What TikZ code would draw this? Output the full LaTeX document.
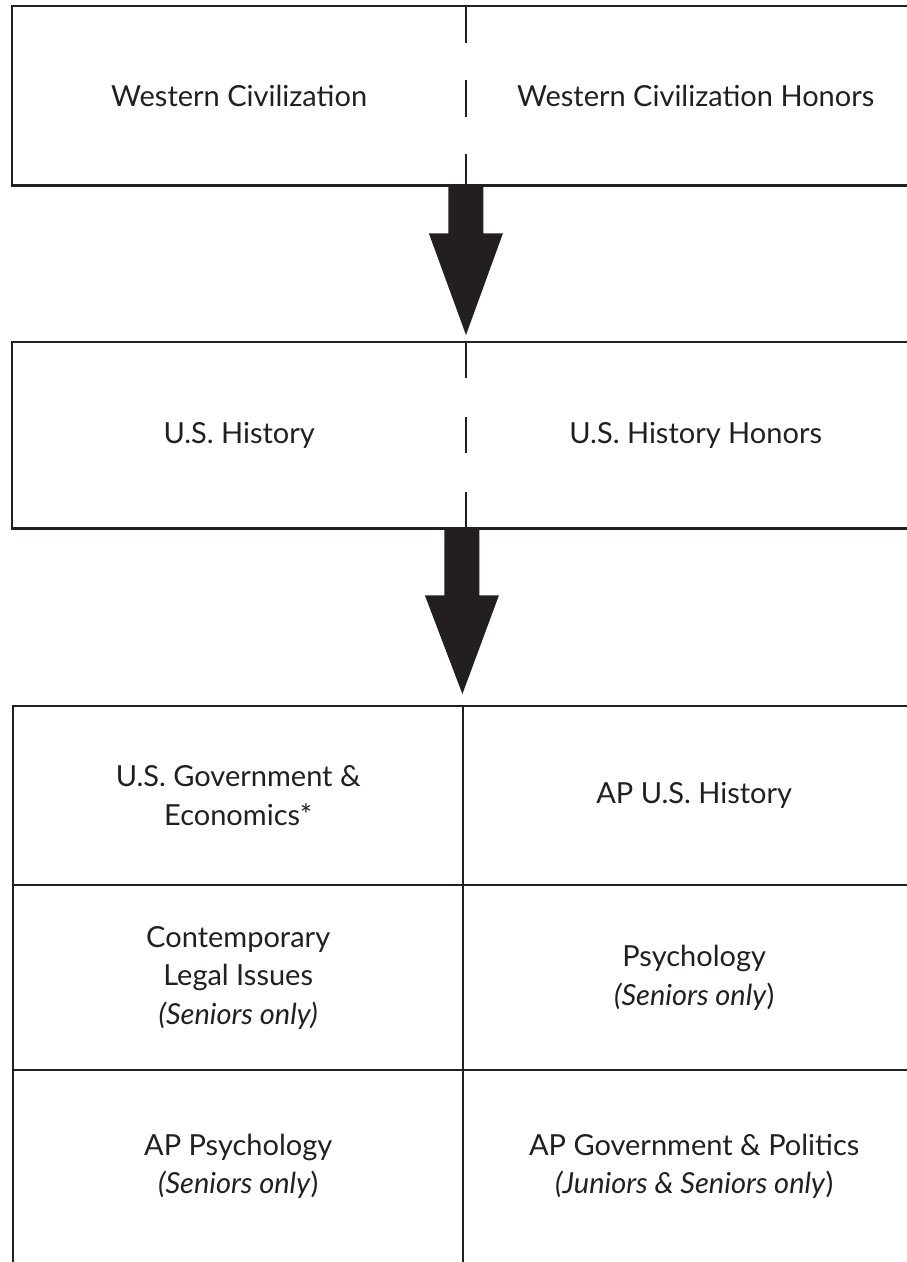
\documentclass[tikz,border=0pt]{standalone}
\usepackage{fontspec}
\setmainfont{Lato}
\usetikzlibrary{calc}
\definecolor{ink}{RGB}{35,31,32}
\tikzset{
  cell/.style={anchor=north west, inner sep=0pt, align=center, text=ink,
    font=\fontsize{29}{38.5}\selectfont},
  frame/.style={draw=ink, line width=2.8pt},
  divider/.style={draw=ink, line width=2.1pt},
  dashdiv/.style={draw=ink, line width=2.1pt, dash pattern=on 37pt off 37pt},
  blockarrow/.style={fill=ink}
}
\begin{document}
\begin{tikzpicture}[x=1pt,y=-1pt]
\useasboundingbox (0,0) rectangle (907,1262);
\clip (0,0) rectangle (907,1262);
% top box
\node[cell, minimum width=454pt, minimum height=179pt] (wcl) at (12,6) {Western Civilization};
\node[cell, minimum width=459pt, minimum height=179pt] (wch) at (466,6) {Western Civilization Honors};
\draw[frame] (wcl.north west) rectangle (wch.south east);
\draw[dashdiv] (wcl.north east) -- (wcl.south east);
% middle box
\node[cell, minimum width=454pt, minimum height=186pt] (usl) at (12,342) {U.S. History};
\node[cell, minimum width=459pt, minimum height=186pt] (ush) at (466,342) {U.S. History Honors};
\draw[frame] (usl.north west) rectangle (ush.south east);
\draw[divider, dash pattern=on 36pt off 39pt] (usl.north east) -- (usl.south east);
% table
\node[cell, minimum width=450pt, minimum height=179pt] (r1l) at (13,706) {U.S. Government \&\\Economics*};
\node[cell, minimum width=462pt, minimum height=179pt] (r1r) at (463,706) {AP U.S. History};
\node[cell, minimum width=450pt, minimum height=185pt] (r2l) at (13,885) {Contemporary\\Legal Issues\\\textit{(Seniors only)}};
\node[cell, minimum width=462pt, minimum height=185pt] (r2r) at (463,885) {Psychology\\\textit{(Seniors only})};
\node[cell, minimum width=450pt, minimum height=192pt] (r3l) at (13,1070) {AP Psychology\\\textit{(Seniors only})};
\node[cell, minimum width=462pt, minimum height=192pt] (r3r) at (463,1070) {AP Government \& Politics\\\textit{(Juniors \& Seniors only})};
\draw[frame] (r1l.north west |- r3l.south) -- (r1l.north west) -- (r1r.north east);
\draw[frame] (r2l.north west) -- (r2r.north east);
\draw[frame] (r3l.north west) -- (r3r.north east);
\draw[divider] (r1l.north east) -- (r3l.south east);
% arrows
\coordinate (a1top) at ($(wcl.south east)+(-0.5,0)$);
\coordinate (a1tip) at ($(ush.north west)+(0,-7)$);
\fill[blockarrow] ($(a1top)+(-17.5,0)$) -- ($(a1top)+(17.5,0)$) -- ($(a1top)+(17.5,48)$)
  -- ($(a1top)+(37,48)$) -- (a1tip) -- ($(a1top)+(-37,48)$) -- ($(a1top)+(-17.5,48)$) -- cycle;
\coordinate (a2top) at ($(usl.south east)+(-4.5,0)$);
\coordinate (a2tip) at ($(r1l.north east)+(-1,-12)$);
\fill[blockarrow] ($(a2top)+(-17.5,0)$) -- ($(a2top)+(17.5,0)$) -- ($(a2top)+(17.5,67)$)
  -- ($(a2top)+(37,67)$) -- (a2tip) -- ($(a2top)+(-37,67)$) -- ($(a2top)+(-17.5,67)$) -- cycle;
\end{tikzpicture}
\end{document}
